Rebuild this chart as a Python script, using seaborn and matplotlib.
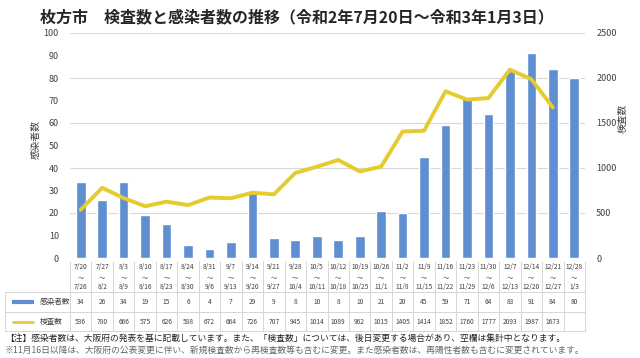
import numpy as np
import pandas as pd
import matplotlib
matplotlib.use("Agg")
import matplotlib.pyplot as plt
import matplotlib.transforms as mtrans
from matplotlib.lines import Line2D
import seaborn as sns

week_start = ['7/20','7/27','8/3','8/10','8/17','8/24','8/31','9/7','9/14','9/21','9/28','10/5',
              '10/12','10/19','10/26','11/2','11/9','11/16','11/23','11/30','12/7','12/14','12/21','12/28']
week_end = ['7/26','8/2','8/9','8/16','8/23','8/30','9/6','9/13','9/20','9/27','10/4','10/11',
            '10/18','10/25','11/1','11/8','11/15','11/22','11/29','12/6','12/13','12/20','12/27','1/3']
cases = [34,26,34,19,15,6,4,7,29,9,8,10,8,10,21,20,45,59,71,64,83,91,84,80]
tests = [536,780,666,575,626,588,672,664,726,707,945,1014,1089,962,1015,1405,1414,1852,1760,1777,2093,1987,1673]

title = '枚方市　検査数と感染者数の推移（令和2年7月20日～令和3年1月3日）'
label_cases = '感染者数'
label_tests = '検査数'
note1 = '【注】感染者数は、大阪府の発表を基に記載しています。また、「検査数」については、後日変更する場合があり、空欄は集計中となります。'
note2 = '※11月16日以降は、大阪府の公表変更に伴い、新規検査数から再検査数等も含むに変更。また感染者数は、再陽性者数も含むに変更されています。'

sns.set_style('white')
plt.rcParams['font.family'] = ['Noto Sans CJK JP', 'DejaVu Sans']

BAR = '#5F8FD2'
LINE = '#E6CB2E'
GRID = '#D9D9D9'
TXT = '#404040'

W, H = 640, 358
fig = plt.figure(figsize=(6.4, 3.58), dpi=100)
fig.patch.set_facecolor('white')

def fy(py):
    return 1 - py / H

x0, x1 = 70, 585
ytop, ybot = 33, 258
ax = fig.add_axes([x0 / W, fy(ybot), (x1 - x0) / W, (ybot - ytop) / H])

df = pd.DataFrame({'week': week_start, 'cases': cases})
sns.barplot(data=df, x='week', y='cases', color=BAR, width=0.45, ax=ax, zorder=2,
            saturation=1)
n = len(week_start)
ax.set_xlim(-0.5, n - 0.5)
ax.set_ylim(0, 100)
ax.set_yticks(np.arange(0, 101, 10))
ax.set_xticks([])
ax.set_xlabel('')
ax.set_ylabel('')
for v in range(20, 101, 20):
    ax.axhline(v, color=GRID, lw=0.8, zorder=0)
ax.tick_params(axis='y', labelsize=6.5, labelcolor=TXT, length=0, pad=8)
for s in ax.spines.values():
    s.set_visible(False)

ax2 = ax.twinx()
dft = pd.DataFrame({'idx': np.arange(len(tests)), 'tests': tests})
sns.lineplot(data=dft, x='idx', y='tests', color=LINE, lw=2.8, ax=ax2, zorder=3)
ax2.set_ylim(0, 2500)
ax2.set_yticks(np.arange(0, 2501, 500))
ax2.set_xlim(-0.5, n - 0.5)
ax2.set_xlabel('')
ax2.set_ylabel('')
ax2.tick_params(axis='y', labelsize=6.5, labelcolor=TXT, length=0, pad=8)
for s in ax2.spines.values():
    s.set_visible(False)

# axis titles
fig.text(36 / W, fy(140), label_cases, rotation=90, ha='center', va='center', fontsize=7, color=TXT)
fig.text(623 / W, fy(118), label_tests, rotation=90, ha='center', va='center', fontsize=7, color=TXT)

# title
fig.text(40 / W, fy(17), title, ha='left', va='center', fontsize=11.5, fontweight='bold', color='#262626')

# table
tr = mtrans.blended_transform_factory(ax.transData, fig.transFigure)
frac = fig.transFigure
t_top, t_h, r1, r2, t_bot = 261, 292, 312, 331, 331
tc = '#D0D0D0'
for yy in [r1, r2, t_h]:
    fig.add_artist(Line2D([5 / W, x1 / W], [fy(yy), fy(yy)], transform=frac, color=tc, lw=0.6))
fig.add_artist(Line2D([5 / W, 5 / W], [fy(t_h), fy(t_bot)], transform=frac, color=tc, lw=0.6))
for i in range(n + 1):
    fig.add_artist(Line2D([i - 0.5, i - 0.5], [fy(t_top), fy(t_bot)], transform=tr, color=tc, lw=0.6))
for i in range(n):
    fig.text(i, fy(267), week_start[i], transform=tr, ha='center', va='center', fontsize=4.8, color=TXT)
    fig.text(i, fy(277), '～', transform=tr, ha='center', va='center', fontsize=4.5, color=TXT)
    fig.text(i, fy(287), week_end[i], transform=tr, ha='center', va='center', fontsize=4.8, color=TXT)
    fig.text(i, fy((t_h + r1) / 2), str(cases[i]), transform=tr, ha='center', va='center', fontsize=4.8, color=TXT)
    if i < len(tests):
        fig.text(i, fy((r1 + r2) / 2), str(tests[i]), transform=tr, ha='center', va='center', fontsize=4.8, color=TXT)

# legend keys
fig.add_artist(Line2D([12 / W, 34 / W], [fy(302), fy(302)], transform=frac, color=BAR, lw=3,
                      solid_capstyle='butt'))
fig.text(40 / W, fy(302), label_cases, ha='left', va='center', fontsize=5.5, color=TXT)
fig.add_artist(Line2D([12 / W, 34 / W], [fy(321.5), fy(321.5)], transform=frac, color=LINE, lw=2,
                      solid_capstyle='butt'))
fig.text(40 / W, fy(321.5), label_tests, ha='left', va='center', fontsize=5.5, color=TXT)

# notes
fig.text(5 / W, fy(338), note1, ha='left', va='center', fontsize=6.3, color='#222222')
fig.text(5 / W, fy(350), note2, ha='left', va='center', fontsize=6.3, color='#666666')

fig.savefig('out.png', dpi=100, facecolor='white')
